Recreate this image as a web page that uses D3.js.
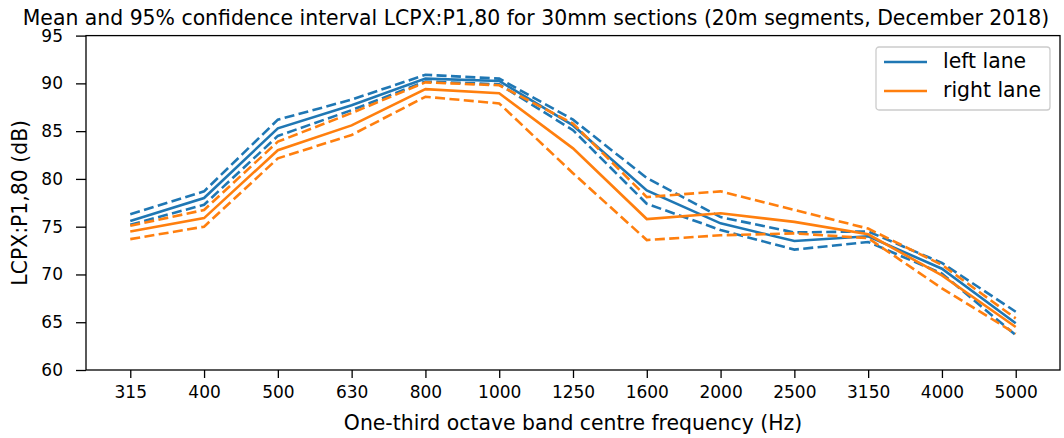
<!DOCTYPE html>
<html>
<head>
<meta charset="utf-8">
<script src="https://cdn.jsdelivr.net/npm/d3@7"></script>
<style>
  body { margin: 0; background: #fff; }
  svg { display: block; font-family: 'DejaVu Sans', sans-serif; }
</style>
</head>
<body>
<div id="chart"></div>
<script>
const freqs = ['315', '400', '500', '630', '800', '1000', '1250', '1600', '2000', '2500', '3150', '4000', '5000'];
const yTicks = [60, 65, 70, 75, 80, 85, 90, 95];

const leftMean  = [75.6, 78.0, 85.3, 87.7, 90.5, 90.25, 85.6, 78.8, 75.35, 73.5, 74.0, 70.6, 64.9];
const leftUpper = [76.3, 78.7, 86.2, 88.3, 90.9, 90.5, 86.2, 80.1, 76.0, 74.4, 74.5, 71.2, 66.1];
const leftLower = [75.2, 77.3, 84.5, 87.2, 90.2, 89.9, 85.1, 77.4, 74.65, 72.6, 73.4, 70.1, 63.65];

const rightMean  = [74.5, 75.9, 83.0, 85.6, 89.4, 88.96, 83.2, 75.8, 76.4, 75.5, 74.2, 69.9, 64.5];
const rightUpper = [75.1, 76.75, 83.9, 86.9, 90.1, 89.8, 85.8, 78.1, 78.7, 76.75, 74.8, 71.0, 65.4];
const rightLower = [73.7, 75.0, 82.15, 84.6, 88.6, 87.9, 80.6, 73.6, 74.1, 74.3, 73.8, 68.55, 63.8];

const width = 1064, height = 438;
const margin = { top: 35.6, right: 4, bottom: 68, left: 86 };
const tickFont = 17;
const labelFont = 20.4;

const svg = d3.select('#chart').append('svg')
  .attr('width', width)
  .attr('height', height);

// index axis with 5% padding each side, like matplotlib
const x = d3.scaleLinear()
  .domain([-0.6, freqs.length - 1 + 0.6])
  .range([margin.left, width - margin.right]);

const y = d3.scaleLinear()
  .domain([60, 95])
  .range([height - margin.bottom, margin.top]);

// Axes
const xAxis = svg.append('g')
  .attr('transform', `translate(0,${height - margin.bottom})`)
  .call(d3.axisBottom(x)
    .tickValues(d3.range(freqs.length))
    .tickFormat(i => freqs[i])
    .tickSize(8)
    .tickPadding(8));
xAxis.select('.domain').remove();

const yAxis = svg.append('g')
  .attr('transform', `translate(${margin.left},0)`)
  .call(d3.axisLeft(y)
    .tickValues(yTicks)
    .tickSize(10)
    .tickPadding(13));
yAxis.select('.domain').remove();

svg.selectAll('.tick text')
  .attr('font-size', tickFont)
  .attr('font-family', 'DejaVu Sans')
  .attr('fill', '#000');
svg.selectAll('.tick line')
  .attr('stroke', '#000')
  .attr('stroke-width', 1.3);

// Series
const line = d3.line()
  .x((d, i) => x(i))
  .y(d => y(d));

const series = [
  { values: leftMean,  color: '#1f77b4', dash: null },
  { values: leftUpper, color: '#1f77b4', dash: '10,4.4' },
  { values: leftLower, color: '#1f77b4', dash: '10,4.4' },
  { values: rightMean,  color: '#ff7f0e', dash: null },
  { values: rightUpper, color: '#ff7f0e', dash: '10,4.4' },
  { values: rightLower, color: '#ff7f0e', dash: '10,4.4' },
];

svg.append('g')
  .selectAll('path')
  .data(series)
  .join('path')
  .attr('d', d => line(d.values))
  .attr('fill', 'none')
  .attr('stroke', d => d.color)
  .attr('stroke-width', 2.6)
  .attr('stroke-dasharray', d => d.dash);

// Frame
svg.append('rect')
  .attr('x', margin.left)
  .attr('y', margin.top)
  .attr('width', width - margin.right - margin.left)
  .attr('height', height - margin.bottom - margin.top)
  .attr('fill', 'none')
  .attr('stroke', '#000')
  .attr('stroke-width', 1.3);

// Title
svg.append('text')
  .attr('x', 536)
  .attr('y', 24.5)
  .attr('text-anchor', 'middle')
  .attr('font-size', labelFont)
  .text('Mean and 95% confidence interval LCPX:P1,80 for 30mm sections (20m segments, December 2018)');

// Axis labels
svg.append('text')
  .attr('x', (margin.left + width - margin.right) / 2)
  .attr('y', 430)
  .attr('text-anchor', 'middle')
  .attr('font-size', labelFont)
  .text('One-third octave band centre frequency (Hz)');

svg.append('text')
  .attr('transform', `translate(27,${(margin.top + height - margin.bottom) / 2}) rotate(-90)`)
  .attr('text-anchor', 'middle')
  .attr('font-size', labelFont)
  .text('LCPX:P1,80 (dB)');

// Legend
const legend = svg.append('g').attr('transform', 'translate(876,47)');
legend.append('rect')
  .attr('width', 174)
  .attr('height', 63)
  .attr('rx', 3)
  .attr('fill', '#fff')
  .attr('fill-opacity', 0.8)
  .attr('stroke', '#ccc')
  .attr('stroke-width', 1.3);

const legendItems = [
  { label: 'left lane', color: '#1f77b4' },
  { label: 'right lane', color: '#ff7f0e' },
];

legendItems.forEach((item, i) => {
  const g = legend.append('g').attr('transform', `translate(0,${15 + i * 29})`);
  g.append('line')
    .attr('x1', 8).attr('x2', 51)
    .attr('stroke', item.color)
    .attr('stroke-width', 2.6);
  g.append('text')
    .attr('x', 67)
    .attr('y', 6)
    .attr('font-size', labelFont)
    .text(item.label);
});
</script>
</body>
</html>
